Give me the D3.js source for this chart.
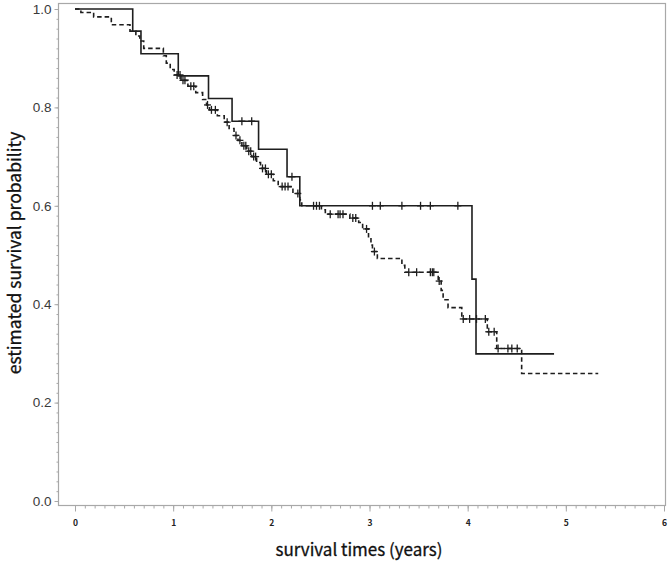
<!DOCTYPE html>
<html><head><meta charset="utf-8">
<script src="https://cdn.jsdelivr.net/npm/d3@7/dist/d3.min.js"></script>
<style>
html,body{margin:0;padding:0;background:#fff;}
svg{display:block;}
</style></head>
<body>
<div id="chart"></div>
<script>
// ---------- data ----------
const timeTicks = [0, 1, 2, 3, 4, 5, 6];
const probTicks = [0.0, 0.2, 0.4, 0.6, 0.8, 1.0];

// Group 1 (solid line): event times and survival after each event
const solidTimes = [0.588, 0.672, 1.052, 1.36, 1.60, 1.87, 2.16, 2.29, 4.044, 4.085];
const solidSurv  = [0.955, 0.909, 0.864, 0.818, 0.772, 0.715, 0.659, 0.600, 0.451, 0.299];
const solidCensor = [1.70, 1.80, 2.21, 3.03, 3.11, 3.33, 3.52, 3.62, 3.90];
const solidEnd = 4.88;

// Group 2 (dashed line)
const dashTimes = [0.06, 0.19, 0.37, 0.56, 0.62, 0.66, 0.70, 0.90, 0.93, 0.97, 1.01, 1.08, 1.15, 1.23, 1.30, 1.34, 1.37, 1.45, 1.52, 1.57, 1.62, 1.66, 1.70, 1.75, 1.80, 1.85, 1.89, 1.95, 2.02, 2.07, 2.22, 2.29, 2.31, 2.51, 2.55, 2.80, 2.89, 2.93, 2.99, 3.015, 3.03, 3.08, 3.33, 3.36, 3.70, 3.73, 3.75, 3.80, 3.94, 4.20, 4.296, 4.55];
const dashSurv  = [0.993, 0.984, 0.968, 0.955, 0.945, 0.935, 0.920, 0.905, 0.890, 0.877, 0.866, 0.855, 0.843, 0.830, 0.816, 0.805, 0.795, 0.783, 0.770, 0.757, 0.743, 0.733, 0.722, 0.711, 0.700, 0.688, 0.676, 0.664, 0.651, 0.639, 0.625, 0.612, 0.600, 0.592, 0.583, 0.575, 0.566, 0.553, 0.535, 0.520, 0.507, 0.493, 0.479, 0.465, 0.447, 0.428, 0.409, 0.393, 0.370, 0.344, 0.310, 0.259];
const dashCensor = [1.04, 1.07, 1.10, 1.12, 1.18, 1.21, 1.35, 1.39, 1.43, 1.55, 1.64, 1.68, 1.72, 1.74, 1.77, 1.79, 1.82, 1.84, 1.91, 1.94, 1.97, 2.00, 2.11, 2.14, 2.17, 2.27, 2.43, 2.46, 2.49, 2.60, 2.68, 2.70, 2.73, 2.83, 2.86, 2.97, 3.05, 3.40, 3.48, 3.62, 3.64, 3.655, 3.71, 3.955, 4.02, 4.09, 4.18, 4.215, 4.27, 4.31, 4.41, 4.45, 4.505];
const dashEnd = 5.33;

// ---------- layout ----------
const W = 668, H = 563;
const svg = d3.select("#chart").append("svg").attr("width", W).attr("height", H);

const x = d3.scaleLinear().domain([0, 6]).range([75, 664]);
const y = d3.scaleLinear().domain([0, 1]).range([501, 9]);

const frame = {left: 58.5, top: 3.5, right: 665.5, bottom: 505.5};
const axisColor = "#a8a8a8";

// frame
svg.append("rect")
  .attr("x", frame.left).attr("y", frame.top)
  .attr("width", frame.right - frame.left).attr("height", frame.bottom - frame.top)
  .attr("fill", "none").attr("stroke", axisColor).attr("stroke-width", 1.2);

// y axis minor + major
const yMinor = d3.range(0, 1.0001, 0.02);
svg.append("g").attr("transform", `translate(${frame.left},0)`)
  .call(d3.axisLeft(y).tickValues(yMinor).tickSize(2).tickFormat(""))
  .call(g => { g.select(".domain").remove(); g.selectAll("line").attr("stroke", axisColor); });
svg.append("g").attr("transform", `translate(${frame.left},0)`)
  .call(d3.axisLeft(y).tickValues(probTicks).tickSize(4).tickPadding(3).tickFormat(d3.format(".1f")))
  .call(g => {
    g.select(".domain").remove();
    g.selectAll("line").attr("stroke", axisColor);
    g.selectAll("text").attr("fill", "#3a3a3a")
      .style("font-family", "'Liberation Sans', Arial, sans-serif").style("font-size", "13.5px");
  });

// x axis minor + major
const xMinor = d3.range(0, 6.0001, 0.1);
svg.append("g").attr("transform", `translate(0,${frame.bottom})`)
  .call(d3.axisBottom(x).tickValues(xMinor).tickSize(3).tickFormat(""))
  .call(g => { g.select(".domain").remove(); g.selectAll("line").attr("stroke", axisColor); });
svg.append("g").attr("transform", `translate(0,${frame.bottom})`)
  .call(d3.axisBottom(x).tickValues(timeTicks).tickSize(6).tickPadding(8).tickFormat(d3.format("d")))
  .call(g => {
    g.select(".domain").remove();
    g.selectAll("line").attr("stroke", axisColor);
    g.selectAll("text").attr("fill", "#222")
      .style("font-family", "'Noto Sans CJK KR', sans-serif").style("font-size", "8.5px").style("font-weight", "bold");
  });

// axis titles
svg.append("text")
  .attr("x", 359).attr("y", 556)
  .attr("text-anchor", "middle")
  .style("font-family", "'Noto Sans CJK KR', sans-serif").style("font-size", "17px")
  .attr("fill", "#111").attr("stroke", "#111").attr("stroke-width", 0.3)
  .text("survival times (years)");
svg.append("text")
  .attr("transform", "translate(20.5,253) rotate(-90)")
  .attr("text-anchor", "middle")
  .style("font-family", "'Noto Sans CJK KR', sans-serif").style("font-size", "17.5px")
  .attr("fill", "#111").attr("stroke", "#111").attr("stroke-width", 0.3)
  .text("estimated survival probability");

// ---------- curves ----------
function stepPoints(times, surv, end) {
  const pts = [[0, 1]];
  times.forEach((t, i) => pts.push([t, surv[i]]));
  pts.push([end, surv[surv.length - 1]]);
  return pts;
}
function survAt(times, surv, t) {
  const i = d3.bisectRight(times, t);
  return i === 0 ? 1 : surv[i - 1];
}
const line = d3.line().x(d => x(d[0])).y(d => y(d[1])).curve(d3.curveStepAfter);
const lineColor = "#1e1e1e";

function drawGroup(times, surv, censor, end, dashed) {
  svg.append("path")
    .datum(stepPoints(times, surv, end))
    .attr("d", line)
    .attr("fill", "none")
    .attr("stroke", lineColor)
    .attr("stroke-width", 1.6)
    .attr("stroke-dasharray", dashed ? "4.5,3" : null);
  const g = svg.append("g");
  censor.forEach(t => {
    const cx = x(t), cy = y(survAt(times, surv, t));
    g.append("line").attr("x1", cx).attr("x2", cx).attr("y1", cy - 4).attr("y2", cy + 4)
      .attr("stroke", lineColor).attr("stroke-width", 1.3);
    g.append("line").attr("x1", cx - 3.5).attr("x2", cx + 3.5).attr("y1", cy).attr("y2", cy)
      .attr("stroke", lineColor).attr("stroke-width", 1.3);
  });
}
drawGroup(dashTimes, dashSurv, dashCensor, dashEnd, true);
drawGroup(solidTimes, solidSurv, solidCensor, solidEnd, false);
</script>
</body></html>
